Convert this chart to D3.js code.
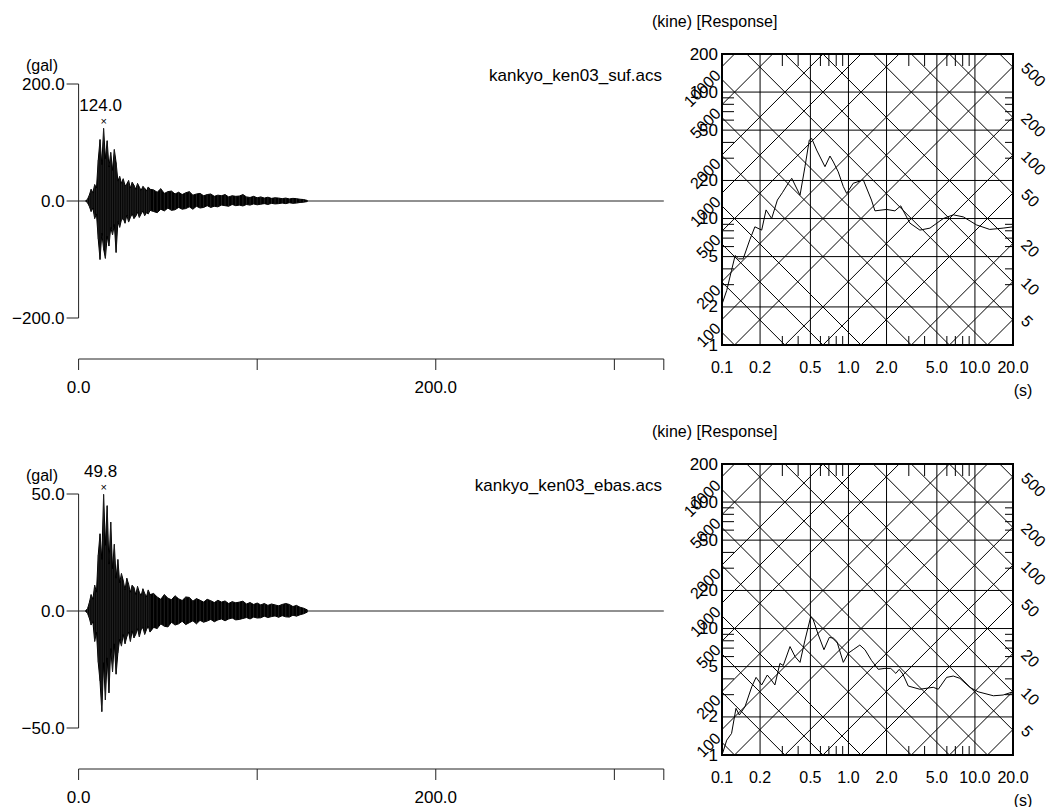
<!DOCTYPE html>
<html lang="ja">
<head>
<meta charset="UTF-8">
<title></title>
<style>
  body { margin: 0; background: #fff; }
  text { font-family: "Liberation Sans", Arial, sans-serif; font-size: 16px; fill: #000; }
  .wave { fill: #000; stroke: #000; stroke-width: 1px; stroke-linejoin: miter; }
  .axis-line { stroke: #222; stroke-width: 1px; fill: none; }
  .grid { stroke: #000; stroke-width: 1px; }
  .diag { stroke: #000; stroke-width: 1px; }
  .frame { fill: none; stroke: #000; stroke-width: 2px; }
  .spec { fill: none; stroke: #000; stroke-width: 1px; }
</style>
</head>
<body>
<script src="https://cdn.jsdelivr.net/npm/d3@7"></script>
<script>
const fileNames = ['kankyo_ken03_suf.acs', 'kankyo_ken03_ebas.acs'];
const ampMax = [200, 50];
const duration = 327.68;
const timeTicks = [0, 100, 200, 300, 327.68];
const timeLabels = ['0.0', '', '200.0', '', ''];

const waveTime = [4, 5, 6, 7, 8, 9, 10, 11, 12, 13, 14, 15, 16, 17, 18, 19, 20, 21, 22, 23, 24, 25, 26, 27, 28, 29, 30, 31, 32, 33, 34, 35, 36, 37, 38, 39, 40,
  42, 44, 46, 48, 50, 52, 54, 56, 58, 60, 62, 64, 66, 68, 70, 72, 74, 76, 78, 80, 82, 84, 86, 88, 90, 92, 94, 96, 98, 100,
  102, 104, 106, 108, 110, 112, 114, 116, 118, 120, 122, 124, 126, 128];

const sufMax = [0.3, 3, 10, 20, 14, 28, 22, 70, 105, 62, 124.0, 72, 103, 58, 83, 52, 88, 66,
  34, 42, 30, 38, 26, 29, 35, 22, 32, 27, 20, 30, 24, 18, 25, 22, 17, 24, 20,
  19, 15, 21, 13, 16, 17, 12, 15, 11, 14, 16, 10, 12, 13, 9, 11, 12, 8, 10, 9, 11, 7, 9, 8, 8.5, 11, 7, 6, 8, 5.5,
  7, 5, 6.5, 4.5, 5.5, 5, 4, 5, 3.5, 4.5, 4, 3, 2.5, 1];
const sufMin = [-0.3, -3, -9, -18, -12, -30, -22, -65, -100, -55, -82, -98, -60, -77, -45, -58, -40, -88,
  -35, -45, -32, -30, -38, -24, -36, -28, -22, -30, -26, -19, -28, -22, -17, -25, -20, -22, -16,
  -18, -20, -14, -17, -12, -16, -15, -11, -14, -13, -10, -14, -9, -12, -11, -8, -11, -9, -10, -7, -8, -9, -6, -8, -7, -8.5, -6, -7, -5, -6.5,
  -5.5, -4.5, -6, -4, -5, -4.5, -3.5, -4.5, -3, -4, -3.5, -2.5, -2, -1];
const ebasMax = [0.2, 1, 3.5, 7, 5, 11, 8, 24, 33, 22, 49.8, 28, 45, 20, 38, 18, 28.5, 14,
  22, 12, 16, 13, 9, 14, 11.4, 8, 11, 10, 7, 10.5, 8, 6.5, 9.5, 7.5, 6, 9, 7,
  7.5, 6, 5, 7, 5.5, 4.8, 6.5, 5.2, 4.5, 6, 5.8, 4.2, 5.3, 4.6, 3.8, 5, 4.4, 3.6, 4.6, 3.8, 4.3, 3.2, 4, 3.5, 3.8, 4.2, 3, 3.6, 2.8, 3.4,
  2.6, 3.2, 2.4, 3, 2.6, 2.2, 2.8, 3.2, 2.8, 1.9, 2.4, 1.6, 1.2, 0.5];
const ebasMin = [-0.2, -1, -3, -6, -4.5, -13, -9, -22, -30, -43, -22, -38, -20, -35, -16, -26, -14, -27,
  -18, -12, -15, -10, -14, -11, -9, -13, -8.5, -11.5, -10, -7.5, -11, -8, -7, -10, -8, -6.5, -9,
  -7, -7.5, -5.5, -6.5, -6.8, -4.8, -6, -5.5, -4.4, -5.8, -5, -4.2, -5.5, -4, -4.8, -4.3, -3.6, -4.6, -3.8, -3.4, -4.2, -3.4, -3, -3.8, -3.6, -3.2, -2.8, -3.4, -2.6, -3,
  -2.9, -2.2, -2.8, -2.4, -2.1, -2.7, -2, -2.5, -2.6, -1.8, -2.2, -1.6, -1.2, -0.5];

const sufPeriod = [0.100, 0.109, 0.119, 0.127, 0.135, 0.147, 0.166, 0.182, 0.206, 0.223, 0.247, 0.274, 0.300, 0.334, 0.356, 0.414, 0.453, 0.490, 0.512, 0.560,
  0.652, 0.714, 0.760, 0.830, 0.910, 0.968, 1.09, 1.31, 1.52, 1.62, 2.00, 2.33, 2.59, 2.88, 3.06, 3.67, 4.41, 5.62, 6.74, 8.10, 10.3, 13.1, 16.7, 20.0];
const sufVel = [2.1, 2.7, 3.9, 5.1, 4.8, 4.8, 6.8, 8.6, 8.1, 11.7, 10.0, 14.0, 16.0, 19.0, 20.8, 15.3, 25.7, 41.7, 43.0, 34.8,
  25.7, 31.2, 28.0, 23.4, 17.9, 15.8, 19.0, 20.2, 14.0, 11.5, 11.8, 11.5, 12.6, 10.3, 9.2, 8.1, 8.4, 10.0, 10.7, 10.3, 8.9, 8.2, 8.4, 8.6];
const ebasPeriod = [0.101, 0.109, 0.119, 0.129, 0.137, 0.152, 0.172, 0.186, 0.206, 0.228, 0.243, 0.262, 0.287, 0.305, 0.345, 0.378, 0.414, 0.453, 0.503, 0.527,
  0.578, 0.640, 0.705, 0.760, 0.810, 0.910, 1.00, 1.09, 1.23, 1.35, 1.52, 1.72, 1.94, 2.16, 2.37, 2.52, 2.69, 2.97, 3.67, 4.68, 5.13, 5.97, 6.74, 7.60,
  9.10, 10.6, 14.0, 16.7, 20.0];
const ebasVel = [1.03, 1.31, 1.48, 2.34, 2.07, 2.41, 3.47, 4.11, 3.58, 4.29, 3.97, 3.58, 5.3, 5.1, 7.2, 6.0, 5.4, 8.1, 12.4, 11.7,
  8.9, 6.8, 8.5, 8.4, 7.9, 5.4, 6.4, 6.8, 7.4, 6.8, 5.6, 4.76, 4.84, 4.84, 4.42, 4.76, 4.37, 3.51, 3.31, 3.43, 3.31, 4.11, 4.21, 4.04,
  3.43, 3.16, 2.94, 2.98, 3.16];

const periodTicks = [0.1, 0.2, 0.5, 1, 2, 5, 10, 20];
const periodLabels = ['0.1', '0.2', '0.5', '1.0', '2.0', '5.0', '10.0', '20.0'];
const velTicks = [1, 2, 5, 10, 20, 50, 100, 200];
const minorPeriod = [0.3, 0.4, 0.6, 0.7, 0.8, 0.9, 3, 4, 6, 7, 8, 9];
const minorVel = [3, 4, 6, 7, 8, 9, 30, 40, 60, 70, 80, 90];
const accLines = [0.5, 1, 2, 5, 10, 20, 50, 100, 200, 500, 1000, 2000, 5000, 10000];
const accLabels = [100, 200, 500, 1000, 2000, 5000, 10000];
const dispLines = [0.02, 0.05, 0.1, 0.2, 0.5, 1, 2, 5, 10, 20, 50, 100, 200, 500];
const dispLabels = [5, 10, 20, 50, 100, 200, 500];

const panelGap = 410;
const svg = d3.select('body')
  .append('svg')
  .attr('width', 1048)
  .attr('height', 807);

function drawWave(g, name, maxAmp, hi, lo) {
  const x = d3.scaleLinear().domain([0, duration]).range([78.6, 663.8]);
  const y = d3.scaleLinear().domain([-maxAmp, maxAmp]).range([318, 84]);
  const fmt = d3.format('.1f');

  // y axis with three ticks
  g.append('line').attr('class', 'axis-line')
    .attr('x1', x(0)).attr('x2', x(0)).attr('y1', y(maxAmp)).attr('y2', y(-maxAmp));
  [maxAmp, 0, -maxAmp].forEach(v => {
    g.append('line').attr('class', 'axis-line')
      .attr('x1', x(0) - 12).attr('x2', x(0)).attr('y1', y(v)).attr('y2', y(v));
    g.append('text')
      .attr('x', x(0) - 14).attr('y', y(v))
      .attr('text-anchor', 'end').attr('dominant-baseline', 'central')
      .style('font-size', '17px')
      .text(fmt(v).replace('-', '\u2212'));
  });
  g.append('text').attr('x', 42).attr('y', 65)
    .attr('text-anchor', 'middle').attr('dominant-baseline', 'central').text('(gal)');

  // time axis below
  const ay = 359;
  g.append('line').attr('class', 'axis-line')
    .attr('x1', x(0)).attr('x2', x(duration)).attr('y1', ay).attr('y2', ay);
  timeTicks.forEach((t, i) => {
    g.append('line').attr('class', 'axis-line')
      .attr('x1', x(t)).attr('x2', x(t)).attr('y1', ay).attr('y2', ay + 11);
    if (timeLabels[i]) {
      g.append('text').attr('x', x(t)).attr('y', ay + 28)
        .attr('text-anchor', 'middle').attr('dominant-baseline', 'central')
        .style('font-size', '17px').text(timeLabels[i]);
    }
  });

  // zero line and trace
  g.append('line').attr('class', 'axis-line')
    .attr('x1', x(0)).attr('x2', x(duration)).attr('y1', y(0)).attr('y2', y(0));
  const pts = waveTime.map((t, i) => ({ t: t, hi: hi[i], lo: lo[i] }));
  g.append('path').datum(pts).attr('class', 'wave')
    .attr('d', d3.area().x(d => x(d.t)).y0(d => y(d.lo)).y1(d => y(d.hi)));
  g.selectAll('.spike').data(pts).enter().append('line')
    .attr('class', 'axis-line')
    .attr('x1', d => x(d.t)).attr('x2', d => x(d.t))
    .attr('y1', d => y(d.lo)).attr('y2', d => y(d.hi));

  const peakIdx = d3.maxIndex(hi.map((v, i) => Math.max(Math.abs(v), Math.abs(lo[i]))));
  const peak = Math.abs(hi[peakIdx]) >= Math.abs(lo[peakIdx]) ? hi[peakIdx] : lo[peakIdx];
  const px = x(waveTime[peakIdx]);
  g.append('text').attr('x', px).attr('y', y(peak) - 7)
    .attr('text-anchor', 'middle').attr('dominant-baseline', 'central')
    .style('font-size', '11px').text('\u00d7');
  g.append('text').attr('x', px - 3).attr('y', y(peak) - 23)
    .attr('text-anchor', 'middle').attr('dominant-baseline', 'central')
    .style('font-size', '17px').text(fmt(Math.abs(peak)));

  g.append('text').attr('x', 662).attr('y', 75)
    .attr('text-anchor', 'end').attr('dominant-baseline', 'central')
    .style('font-size', '17px').text(name);
}

function drawTripartite(g, periods, vels, clipId) {
  const x = d3.scaleLog().domain([0.1, 20]).range([722, 1013]);
  const y = d3.scaleLog().domain([1, 200]).range([345, 54]);
  const twoPi = 2 * Math.PI;

  g.append('clipPath').attr('id', clipId)
    .append('rect').attr('x', 722).attr('y', 54).attr('width', 291).attr('height', 291);
  const inner = g.append('g').attr('clip-path', `url(#${clipId})`);

  inner.selectAll('.gx').data(periodTicks).enter().append('line')
    .attr('class', 'grid').attr('x1', d => x(d)).attr('x2', d => x(d)).attr('y1', 54).attr('y2', 345);
  inner.selectAll('.gy').data(velTicks).enter().append('line')
    .attr('class', 'grid').attr('y1', d => y(d)).attr('y2', d => y(d)).attr('x1', 722).attr('x2', 1013);

  inner.selectAll('.acc').data(accLines).enter().append('line')
    .attr('class', 'diag')
    .attr('x1', x(0.1)).attr('y1', a => y(a * 0.1 / twoPi))
    .attr('x2', x(20)).attr('y2', a => y(a * 20 / twoPi));
  inner.selectAll('.disp').data(dispLines).enter().append('line')
    .attr('class', 'diag')
    .attr('x1', x(0.1)).attr('y1', dd => y(twoPi * dd / 0.1))
    .attr('x2', x(20)).attr('y2', dd => y(twoPi * dd / 20));

  minorPeriod.forEach(p => {
    g.append('line').attr('class', 'grid').attr('x1', x(p)).attr('x2', x(p)).attr('y1', 54).attr('y2', 66);
    g.append('line').attr('class', 'grid').attr('x1', x(p)).attr('x2', x(p)).attr('y1', 345).attr('y2', 336);
  });
  minorVel.forEach(v => {
    g.append('line').attr('class', 'grid').attr('y1', y(v)).attr('y2', y(v)).attr('x1', 722).attr('x2', 734);
    g.append('line').attr('class', 'grid').attr('y1', y(v)).attr('y2', y(v)).attr('x1', 1013).attr('x2', 1005);
  });

  inner.append('path').datum(periods.map((p, i) => [p, vels[i]]))
    .attr('class', 'spec')
    .attr('d', d3.line().x(d => x(d[0])).y(d => y(d[1])));

  g.append('rect').attr('class', 'frame').attr('x', 722).attr('y', 54).attr('width', 291).attr('height', 291);

  velTicks.forEach(v => {
    g.append('text').attr('x', 718).attr('y', y(v))
      .attr('text-anchor', 'end').attr('dominant-baseline', 'central')
      .style('font-size', '17px').text(v);
  });
  periodTicks.forEach((p, i) => {
    g.append('text').attr('x', x(p)).attr('y', 367)
      .attr('text-anchor', 'middle').attr('dominant-baseline', 'central').text(periodLabels[i]);
  });
  g.append('text').attr('x', 1023).attr('y', 390)
    .attr('text-anchor', 'middle').attr('dominant-baseline', 'central').text('(s)');

  accLabels.forEach(a => {
    const ly = y(a * 0.1 / twoPi) + 6;
    g.append('text')
      .attr('transform', `translate(${722 - 4}, ${ly}) rotate(-45)`)
      .attr('text-anchor', 'end').attr('dominant-baseline', 'central').text(a);
  });
  dispLabels.forEach(dd => {
    const ly = y(twoPi * dd / 20) - 2;
    g.append('text')
      .attr('transform', `translate(${1013 + 11}, ${ly}) rotate(45)`)
      .attr('text-anchor', 'start').attr('dominant-baseline', 'central').text(dd);
  });

  g.append('text').attr('x', 652).attr('y', 21)
    .attr('dominant-baseline', 'central').text('(kine) [Response]');
}

const topPanel = svg.append('g');
drawWave(topPanel, fileNames[0], ampMax[0], sufMax, sufMin);
drawTripartite(topPanel, sufPeriod, sufVel, 'clip-top');

const bottomPanel = svg.append('g').attr('transform', `translate(0, ${panelGap})`);
drawWave(bottomPanel, fileNames[1], ampMax[1], ebasMax, ebasMin);
drawTripartite(bottomPanel, ebasPeriod, ebasVel, 'clip-bottom');
</script>
</body>
</html>
